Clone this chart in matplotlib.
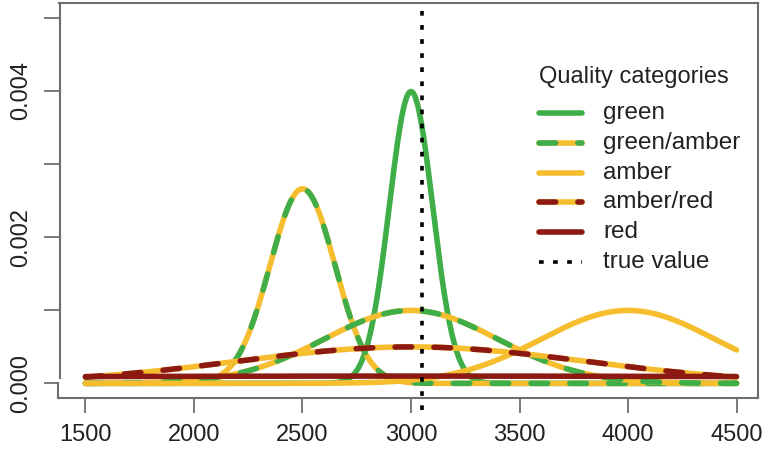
import numpy as np
import matplotlib
matplotlib.use('Agg')
import matplotlib.pyplot as plt
from matplotlib.lines import Line2D

plt.rcParams['font.family'] = ['Liberation Sans', 'DejaVu Sans']

# density curves: category, mean, sd
categories = ['green', 'green/amber', 'green/amber', 'amber', 'amber/red', 'red']
means = [3000, 2500, 3000, 4000, 3000, 3000]
sds = [100, 150, 400, 400, 800, 4000]
true_value = 3050

legend_labels = ['green', 'green/amber', 'amber', 'amber/red', 'red', 'true value']
x_ticks = [1500, 2000, 2500, 3000, 3500, 4000, 4500]
y_ticks = [0.000, 0.001, 0.002, 0.003, 0.004, 0.005]
y_ticklabels = ['0.000', '', '0.002', '', '0.004', '']

GREEN = '#3fae49'
AMBER = '#f6bd2f'
RED = '#8c1a12'
AXCOL = '#6e6e6e'

W, H = 763, 457
fig = plt.figure(figsize=(W / 100, H / 100), dpi=100)
ax = fig.add_axes([59 / W, 1 - 398 / H, (758 - 59) / W, (398 - 3) / H])

x = np.linspace(1500, 4500, 600)
lw = 4.0
dash = dict(linestyle=(0, (3, 4)), dash_capstyle='round')

def dnorm(x, m, s):
    return np.exp(-0.5 * ((x - m) / s) ** 2) / (s * np.sqrt(2 * np.pi))

for cat, m, s in zip(categories, means, sds):
    y = dnorm(x, m, s)
    if cat == 'green':
        ax.plot(x, y, color=GREEN, lw=lw, solid_capstyle='round')
    elif cat == 'green/amber':
        ax.plot(x, y, color=AMBER, lw=lw, solid_capstyle='round')
        ax.plot(x, y, color=GREEN, lw=lw, **dash)
    elif cat == 'amber':
        ax.plot(x, y, color=AMBER, lw=lw, solid_capstyle='round')
    elif cat == 'amber/red':
        ax.plot(x, y, color=AMBER, lw=lw, solid_capstyle='round')
        ax.plot(x, y, color=RED, lw=lw, **dash)
    else:
        ax.plot(x, y, color=RED, lw=lw, solid_capstyle='round')

ax.axvline(true_value, ymin=-0.03, ymax=1, color='black', lw=2.6,
           linestyle=(0, (1.3, 2.6)), clip_on=False)

ax.set_xlim(1378, 4599)
ax.set_ylim(-0.0002, 0.0052)
ax.set_xticks(x_ticks)
ax.set_yticks(y_ticks)
ax.set_yticklabels(y_ticklabels)
ax.tick_params(axis='both', length=11, width=1.3, color=AXCOL,
               labelsize=17, labelcolor='#222222')
ax.tick_params(axis='x', pad=8)
ax.tick_params(axis='y', pad=8, labelrotation=90)
for lab in ax.get_yticklabels():
    lab.set_va('center')

for sp in ['top', 'right', 'bottom']:
    ax.spines[sp].set_color(AXCOL)
    ax.spines[sp].set_linewidth(1.5)
ax.spines['left'].set_visible(False)
# left axis drawn with a small break near zero
yb_hi = (0.00008 + 0.0002) / 0.0054
yb_lo = (0.00001 + 0.0002) / 0.0054
ax.add_line(Line2D([0.002, 0.002], [yb_hi, 1], transform=ax.transAxes,
                   color=AXCOL, lw=1.5, clip_on=False))
ax.add_line(Line2D([-0.002, -0.002], [0, yb_lo], transform=ax.transAxes,
                   color=AXCOL, lw=1.5, clip_on=False))

# legend drawn by hand (pixel positions)
def fx(px):
    return px / W

def fy(py):
    return 1 - py / H

fig.text(fx(539), fy(77), 'Quality categories', fontsize=17, va='center',
         ha='left', color='#222222')
styles = [
    [(GREEN, '-')],
    [(AMBER, '-'), (GREEN, 'd')],
    [(AMBER, '-')],
    [(AMBER, '-'), (RED, 'd')],
    [(RED, '-')],
    [('black', ':')],
]
for i, (lab, st) in enumerate(zip(legend_labels, styles)):
    yy = fy(113 + i * 29.8)
    for col, kind in st:
        if kind == '-':
            fig.add_artist(Line2D([fx(539), fx(582)], [yy, yy], color=col, lw=lw,
                                  solid_capstyle='round'))
        elif kind == 'd':
            fig.add_artist(Line2D([fx(539), fx(582)], [yy, yy], color=col, lw=lw,
                                  **dash))
        else:
            fig.add_artist(Line2D([fx(539), fx(582)], [yy, yy], color=col, lw=2.6,
                                  linestyle=(0, (1.3, 2.6))))
    fig.text(fx(603), yy, lab, fontsize=17.5, va='center', ha='left', color='#222222')

fig.savefig('out.png', dpi=100)
